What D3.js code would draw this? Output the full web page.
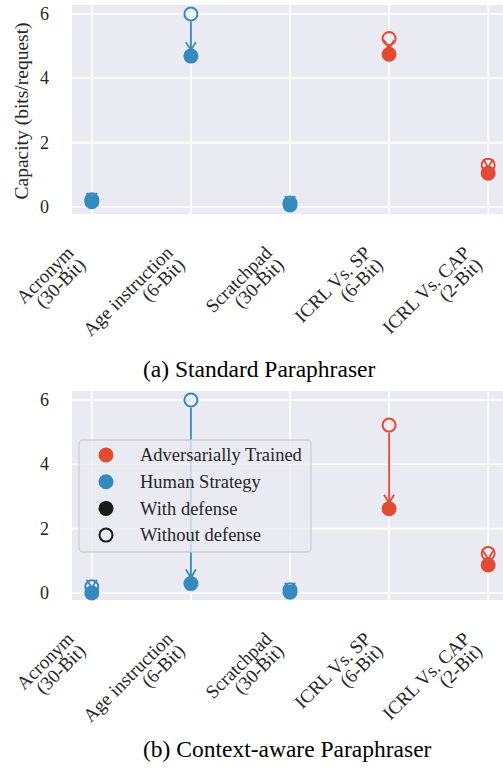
<!DOCTYPE html>
<html>
<head>
<meta charset="utf-8">
<script src="https://cdn.jsdelivr.net/npm/d3@7"></script>
<style>
  body { margin: 0; background: #fff; }
  text { font-family: "Liberation Serif", "Times New Roman", serif; fill: #262626; }
</style>
</head>
<body>
<div id="chart"></div>
<script>
// categories (two-line tick labels)
const catLine1 = ['Acronym', 'Age instruction', 'Scratchpad', 'ICRL Vs. SP', 'ICRL Vs. CAP'];
const catLine2 = ['(30-Bit)', '(6-Bit)', '(30-Bit)', '(6-Bit)', '(2-Bit)'];
const strategy = ['human', 'human', 'human', 'adv', 'adv'];

// capacity values (bits/request)
const standardWithout = [0.22, 6.0, 0.12, 5.24, 1.30];
const standardWith = [0.16, 4.69, 0.06, 4.75, 1.05];
const contextWithout = [0.19, 6.0, 0.10, 5.22, 1.23];
const contextWith = [0.0, 0.29, 0.02, 2.62, 0.87];

const yTicks = [0, 2, 4, 6];
const legendLabels = ['Adversarially Trained', 'Human Strategy', 'With defense', 'Without defense'];
const captions = ['(a) Standard Paraphraser', '(b) Context-aware Paraphraser'];

const colors = { adv: '#E24A33', human: '#348ABD' };
const bg = '#EAEAF2';
const r = 7.5;

const svg = d3.select('#chart').append('svg')
  .attr('width', 503)
  .attr('height', 770);

const x = d3.scaleLinear().domain([-0.2, 4.2]).range([72, 508]);

function drawPanel(top, without, withDef, caption, captionY, showYLabel, showLegend) {
  const y = d3.scaleLinear().domain([-0.22, 6.28]).range([top + 209, top]);
  const g = svg.append('g');

  g.append('rect')
    .attr('x', x(-0.2)).attr('y', top)
    .attr('width', x(4.2) - x(-0.2)).attr('height', 209)
    .style('fill', bg);

  // grid
  g.selectAll('.hgrid').data(yTicks).enter().append('line')
    .attr('x1', x(-0.2)).attr('x2', x(4.2))
    .attr('y1', d => y(d)).attr('y2', d => y(d))
    .style('stroke', '#fff').style('stroke-width', 1.6);
  g.selectAll('.vgrid').data(d3.range(5)).enter().append('line')
    .attr('x1', d => x(d)).attr('x2', d => x(d))
    .attr('y1', top).attr('y2', top + 209)
    .style('stroke', '#fff').style('stroke-width', 1.6);

  // y tick labels
  g.selectAll('.ytick').data(yTicks).enter().append('text')
    .attr('x', 49).attr('y', d => y(d))
    .attr('dy', '0.34em')
    .style('text-anchor', 'end')
    .style('font-size', '18px')
    .text(d => d);

  if (showYLabel) {
    g.append('text')
      .attr('transform', `translate(28,${top + 106}) rotate(-90)`)
      .style('text-anchor', 'middle')
      .style('font-size', '19.5px')
      .text('Capacity (bits/request)');
  }

  const idx = d3.range(5);

  // without defense (open)
  g.selectAll('.open').data(idx).enter().append('circle')
    .attr('cx', i => x(i)).attr('cy', i => y(without[i]))
    .attr('r', r - 1)
    .style('fill', 'none')
    .style('stroke', i => colors[strategy[i]])
    .style('stroke-width', 2);

  // with defense (filled)
  g.selectAll('.filled').data(idx).enter().append('circle')
    .attr('cx', i => x(i)).attr('cy', i => y(withDef[i]))
    .attr('r', r)
    .style('fill', i => colors[strategy[i]]);

  // arrows open -> filled
  idx.forEach(i => {
    const cx = x(i);
    const start = y(without[i]) + r;
    const tip = Math.max(y(withDef[i]) - r + 1.5, y(without[i]) + 1);
    const c = colors[strategy[i]];
    if (tip > start) {
      g.append('line')
        .attr('x1', cx).attr('x2', cx)
        .attr('y1', start).attr('y2', tip)
        .style('stroke', c).style('stroke-width', 1.8);
    }
    g.append('path')
      .attr('d', `M${cx - 5},${tip - 8}L${cx},${tip}L${cx + 5},${tip - 8}`)
      .style('fill', 'none')
      .style('stroke', c).style('stroke-width', 1.8);
  });

  // x tick labels rotated 45
  idx.forEach(i => {
    const t = g.append('text')
      .attr('transform', `translate(${x(i) - 5},${top + 261}) rotate(-45)`)
      .style('text-anchor', 'end')
      .style('font-size', '19px');
    t.append('tspan').attr('x', 0).attr('y', -17).text(catLine1[i]);
    t.append('tspan').attr('x', 0).attr('y', 0).text(catLine2[i]);
  });

  if (showLegend) {
    const lg = g.append('g');
    lg.append('rect')
      .attr('x', 79).attr('y', 440)
      .attr('width', 232).attr('height', 112)
      .attr('rx', 4)
      .style('fill', bg).style('fill-opacity', 0.8)
      .style('stroke', '#cccccc').style('stroke-opacity', 0.8)
      .style('stroke-width', 1.5);
    const items = [
      { fill: colors.adv, stroke: 'none' },
      { fill: colors.human, stroke: 'none' },
      { fill: '#1a1a1a', stroke: 'none' },
      { fill: 'none', stroke: '#1a1a1a' }
    ];
    items.forEach((it, k) => {
      const cy = 455 + k * 26.7;
      lg.append('circle')
        .attr('cx', 106).attr('cy', cy)
        .attr('r', it.stroke === 'none' ? r : r - 1)
        .style('fill', it.fill)
        .style('stroke', it.stroke)
        .style('stroke-width', 2);
      lg.append('text')
        .attr('x', 140).attr('y', cy).attr('dy', '0.33em')
        .style('font-size', '18.5px')
        .text(legendLabels[k]);
    });
  }

  svg.append('text')
    .attr('x', 143).attr('y', captionY)
    .style('font-size', '23.5px')
    .style('fill', '#000')
    .text(caption);
}

drawPanel(5, standardWithout, standardWith, captions[0], 377, true, false);
drawPanel(391, contextWithout, contextWith, captions[1], 757, false, true);
</script>
</body>
</html>
